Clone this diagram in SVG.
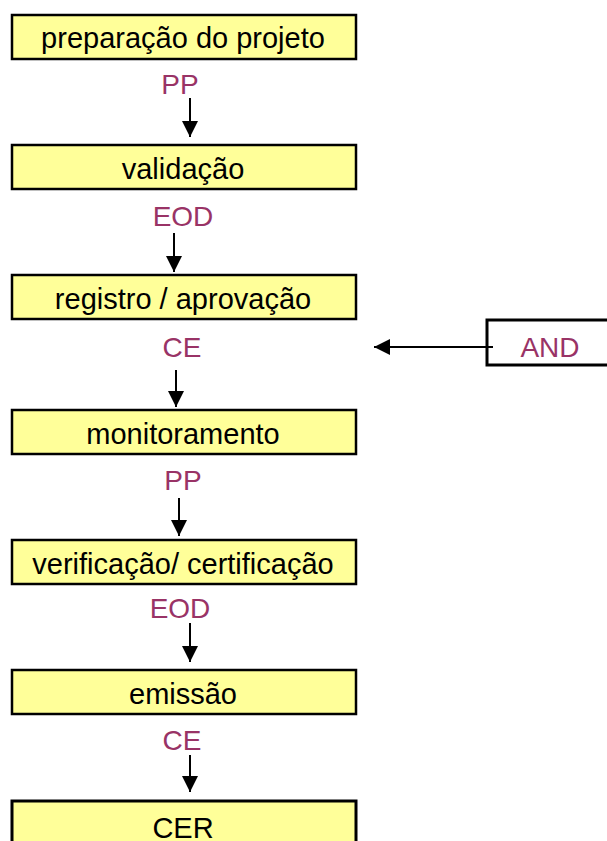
<svg xmlns="http://www.w3.org/2000/svg" width="607" height="841" viewBox="0 0 607 841">
<style>
.box{fill:#FFFF99;stroke:#000;stroke-width:2.5}
.bt{font-family:"Liberation Sans",Arial,sans-serif;font-size:29px;fill:#000;text-anchor:middle}
.lb{font-family:"Liberation Sans",Arial,sans-serif;font-size:28px;fill:#993366;text-anchor:middle}
.ar{stroke:#000;stroke-width:2;fill:none;marker-end:url(#ah)}
</style>
<defs>
<marker id="ah" markerUnits="userSpaceOnUse" markerWidth="16" markerHeight="16" viewBox="0 0 16 16" refX="16" refY="8" orient="auto">
<path d="M0,0 L16,8 L0,16 Z" fill="#000"/>
</marker>
</defs>
<rect width="607" height="841" fill="#fff"/>
<g id="n1"><rect class="box" x="12" y="15" width="344" height="44"/><text class="bt" x="183" y="48">preparação do projeto</text></g>
<g id="n2"><rect class="box" x="12" y="145" width="344" height="44"/><text class="bt" x="183" y="179">validação</text></g>
<g id="n3"><rect class="box" x="12" y="275" width="344" height="44"/><text class="bt" x="183" y="309">registro / aprovação</text></g>
<g id="n4"><rect class="box" x="12" y="410" width="344" height="44"/><text class="bt" x="183" y="444">monitoramento</text></g>
<g id="n5"><rect class="box" x="12" y="540" width="344" height="44"/><text class="bt" x="183" y="574">verificação/ certificação</text></g>
<g id="n6"><rect class="box" x="12" y="670" width="344" height="44"/><text class="bt" x="183" y="704">emissão</text></g>
<g id="n7"><rect class="box" x="12" y="801" width="344" height="50" style="stroke-width:3"/><text class="bt" x="183" y="838">CER</text></g>
<g id="and"><rect x="487" y="320" width="130" height="45" fill="#fff" stroke="#000" stroke-width="3"/><text class="lb" x="550" y="357">AND</text></g>
<g id="labels">
<text class="lb" x="180" y="94">PP</text>
<text class="lb" x="183" y="226">EOD</text>
<text class="lb" x="182" y="357">CE</text>
<text class="lb" x="183" y="490">PP</text>
<text class="lb" x="180" y="618">EOD</text>
<text class="lb" x="182" y="750">CE</text>
</g>
<g id="connectors">
<line class="ar" x1="190" y1="98" x2="190" y2="137"/>
<line class="ar" x1="174" y1="233" x2="174" y2="272"/>
<line class="ar" x1="176" y1="370" x2="176" y2="407"/>
<line class="ar" x1="179" y1="498" x2="179" y2="536"/>
<line class="ar" x1="190" y1="623" x2="190" y2="662"/>
<line class="ar" x1="190" y1="755" x2="190" y2="792"/>
<line class="ar" x1="493" y1="347" x2="374" y2="347"/>
</g>
</svg>
